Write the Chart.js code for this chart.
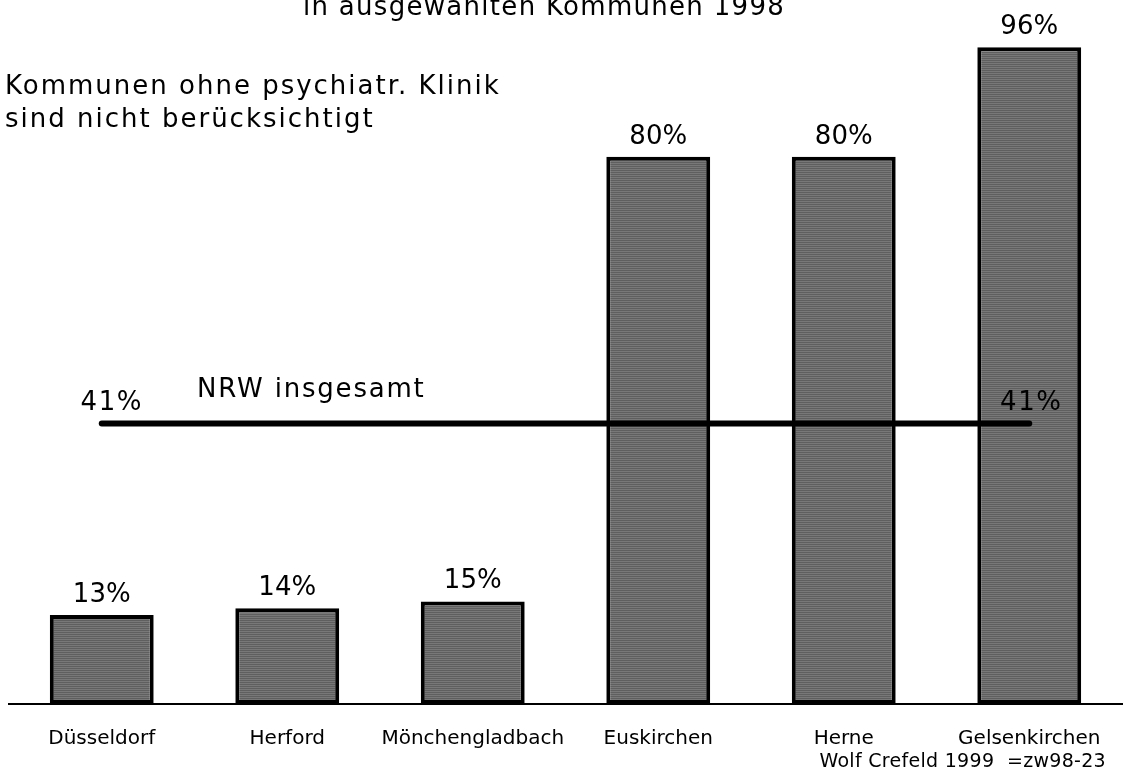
<!DOCTYPE html>
<html>
<head>
<meta charset="utf-8">
<script src="https://cdn.jsdelivr.net/npm/chart.js@4/dist/chart.umd.min.js"></script>
<style>
html,body{margin:0;padding:0;background:#fff;}
canvas{display:block;}
</style>
</head>
<body>
<canvas id="c" width="1125" height="775"></canvas>
<script>
const categories = ["Düsseldorf", "Herford", "Mönchengladbach", "Euskirchen", "Herne", "Gelsenkirchen"];
const shareValues = [13, 14, 15, 80, 80, 96];
const nrwValue = 41;
const nrwLabel = "NRW insgesamt";
const titleText = "in ausgewählten Kommunen 1998";
const noteLines = ["Kommunen ohne psychiatr. Klinik", "sind nicht berücksichtigt"];
const footerText = "Wolf Crefeld 1999  =zw98-23";

const FONT = "'DejaVu Sans', sans-serif";

// striped gray fill
const pc = document.createElement('canvas');
pc.width = 4; pc.height = 2;
const pctx = pc.getContext('2d');
pctx.fillStyle = '#5f5f5f'; pctx.fillRect(0,0,4,1);
pctx.fillStyle = '#787878'; pctx.fillRect(0,1,4,1);
const ctx = document.getElementById('c').getContext('2d');
const stripe = ctx.createPattern(pc, 'repeat');

function spaced(c, text, x, y, sp) {
  c.letterSpacing = sp + 'px';
  c.fillText(text, x, y);
  c.letterSpacing = '0px';
}

const textPlugin = {
  id: 'texts',
  afterDatasetsDraw(chart) {
    const c = chart.ctx;
    const xs = chart.scales.x, ys = chart.scales.y;
    c.save();
    c.fillStyle = '#000';
    c.textBaseline = 'alphabetic';
    // value labels
    c.font = "26px " + FONT;
    c.textAlign = 'center';
    const meta = chart.getDatasetMeta(0);
    meta.data.forEach((bar, i) => {
      c.fillText(shareValues[i] + '%', bar.x, bar.y - 13);
    });
    // title (cut off at top)
    spaced(c, titleText, 544, 15, 1.3);
    // note
    c.textAlign = 'left';
    noteLines.forEach((t, i) => spaced(c, t, 5, 94 + i * 33, 2));
    // NRW labels
    const yN = ys.getPixelForValue(nrwValue);
    c.textAlign = 'center';
    spaced(c, nrwValue + '%', xs.getPixelForValue(0) + 10, yN - 14, 1.5);
    spaced(c, nrwValue + '%', xs.getPixelForValue(categories.length - 1) + 2, yN - 14, 1.5);
    c.textAlign = 'left';
    spaced(c, nrwLabel, 197, yN - 27, 1.8);
    // footer
    c.font = "19px " + FONT;
    c.textAlign = 'right';
    spaced(c, footerText, 1106, 767, 0.3);
    c.restore();
  }
};

new Chart(ctx, {
  data: {
    labels: categories,
    datasets: [
      {
        type: 'bar',
        data: shareValues,
        backgroundColor: stripe,
        borderColor: '#000',
        borderWidth: 4,
        borderSkipped: false,
        categoryPercentage: 1,
        barPercentage: 0.56,
        order: 1
      },
      {
        type: 'line',
        data: categories.map(() => nrwValue),
        borderColor: '#000',
        borderWidth: 6,
        borderCapStyle: 'round',
        pointRadius: 0,
        fill: false,
        order: 0
      }
    ]
  },
  options: {
    responsive: false,
    animation: false,
    events: [],
    layout: { padding: { left: 9, right: 3, top: 20, bottom: 1 } },
    plugins: { legend: { display: false }, tooltip: { enabled: false } },
    scales: {
      x: {
        grid: { display: false, drawTicks: false },
        border: { display: true, color: '#000', width: 2 },
        ticks: { color: '#000', font: { family: FONT, size: 20 }, padding: 23, maxRotation: 0, autoSkip: false }
      },
      y: {
        display: false,
        min: 0,
        max: 100
      }
    }
  },
  plugins: [textPlugin]
});
</script>
</body>
</html>
